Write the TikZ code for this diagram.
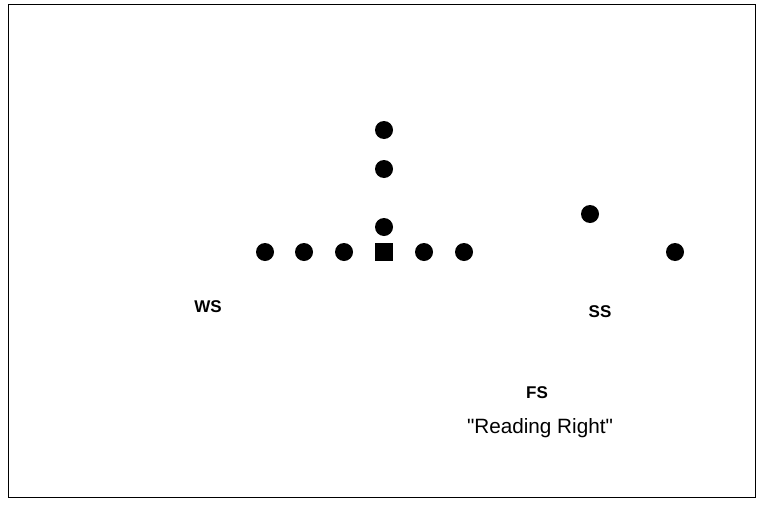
\documentclass[tikz,border=0pt]{standalone}
\usepackage{fontspec}
\setmainfont{Liberation Sans}[Ligatures=TeXOff]
\begin{document}
\begin{tikzpicture}[x=1pt,y=-1pt,
  playerdot/.style={circle,fill=black,inner sep=0pt,minimum size=18pt},
  centerbox/.style={rectangle,fill=black,inner sep=0pt,minimum size=18pt},
  poslabel/.style={font=\fontsize{17}{19}\selectfont\bfseries,inner sep=0pt},
  captiontext/.style={font=\fontsize{20.7}{24}\selectfont,inner sep=0pt}]
\useasboundingbox (0,0) rectangle (762,506);
\draw[line width=1pt] (8,4.5) rectangle (755.5,497.5);
\node[playerdot] (l1) at (265,252) {};
\node[playerdot] (l2) at (304,252) {};
\node[playerdot] (l3) at (344,252) {};
\node[centerbox] (c) at (384,252) {};
\node[playerdot] (r1) at (424,252) {};
\node[playerdot] (r2) at (464,252) {};
\node[playerdot] (qb) at (384,227) {};
\node[playerdot] (fb) at (384,169) {};
\node[playerdot] (tb) at (384,130) {};
\node[playerdot] (sl) at (590,214) {};
\node[playerdot] (wr) at (675,252) {};
\node[poslabel] (ws) at (208,307) {WS};
\node[poslabel] (ss) at (600,312) {SS};
\node[poslabel] (fs) at (537,393) {FS};
\node[captiontext] (cap) at (540,428) {"Reading Right"};
\end{tikzpicture}
\end{document}
